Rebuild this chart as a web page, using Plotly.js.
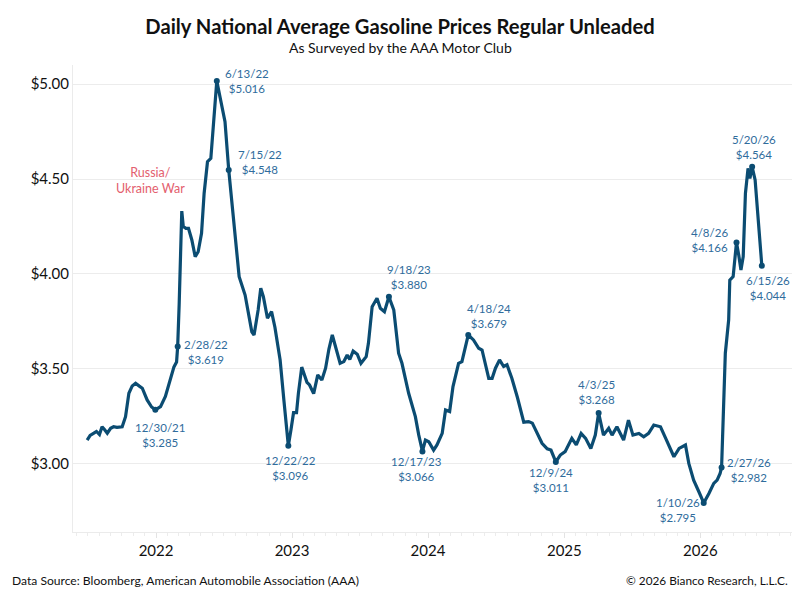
<!DOCTYPE html>
<html>
<head>
<meta charset="utf-8">
<script src="https://cdn.plot.ly/plotly-3.0.1.min.js"></script>
<style>html,body{margin:0;padding:0;background:#fff;}#chart{width:800px;height:600px;}</style>
</head>
<body>
<div id="chart"></div>
<script>
const dates = [
"2021-06-30","2021-07-08","2021-07-18","2021-07-25","2021-08-02","2021-08-09","2021-08-16","2021-08-23","2021-09-01","2021-09-09",
"2021-09-18","2021-10-02","2021-10-11","2021-10-20","2021-10-29","2021-11-07","2021-11-17","2021-11-25","2021-12-08","2021-12-20",
"2021-12-30","2022-01-13","2022-01-26","2022-02-09","2022-02-18","2022-02-25","2022-02-28","2022-03-04","2022-03-08","2022-03-11",
"2022-03-15","2022-03-22","2022-03-29","2022-04-07","2022-04-16","2022-04-24","2022-05-03","2022-05-10","2022-05-19","2022-05-28",
"2022-06-13","2022-06-22","2022-07-05","2022-07-15","2022-07-27","2022-08-07","2022-08-12","2022-08-28","2022-09-15","2022-09-21",
"2022-10-02","2022-10-09","2022-10-16","2022-10-27","2022-11-07","2022-11-16","2022-11-30","2022-12-10","2022-12-22","2022-12-29",
"2023-01-05","2023-01-13","2023-01-18","2023-01-27","2023-02-10","2023-02-17","2023-02-28","2023-03-11","2023-03-22","2023-04-01",
"2023-04-10","2023-04-19","2023-04-28","2023-05-10","2023-05-20","2023-05-29","2023-06-05","2023-06-14","2023-06-25","2023-07-05",
"2023-07-19","2023-07-25","2023-08-04","2023-08-17","2023-08-26","2023-09-06","2023-09-18","2023-10-01","2023-10-14","2023-10-23",
"2023-11-10","2023-11-28","2023-12-07","2023-12-17","2023-12-25","2024-01-03","2024-01-16","2024-01-25","2024-02-08","2024-02-17",
"2024-02-28","2024-03-08","2024-03-23","2024-04-01","2024-04-18","2024-05-02","2024-05-16","2024-05-25","2024-06-12","2024-06-21",
"2024-06-30","2024-07-11","2024-07-22","2024-07-31","2024-08-13","2024-08-28","2024-09-14","2024-09-27","2024-10-07","2024-10-19",
"2024-11-02","2024-11-16","2024-11-26","2024-12-09","2024-12-21","2025-01-03","2025-01-21","2025-02-02","2025-02-15","2025-02-27",
"2025-03-13","2025-03-25","2025-04-03","2025-04-16","2025-04-30","2025-05-09","2025-05-22","2025-06-09","2025-06-22","2025-07-04",
"2025-07-20","2025-08-02","2025-08-15","2025-08-29","2025-09-16","2025-09-30","2025-10-13","2025-10-22","2025-11-05","2025-11-22",
"2025-12-01","2025-12-14","2025-12-28","2026-01-10","2026-01-24","2026-02-06","2026-02-15","2026-02-23","2026-02-27","2026-03-09",
"2026-03-18","2026-03-21","2026-03-30","2026-04-08","2026-04-14","2026-04-20","2026-04-26","2026-05-02","2026-05-09","2026-05-14",
"2026-05-20","2026-05-28","2026-06-04","2026-06-09","2026-06-15"
];
const prices = [
3.126,3.150,3.162,3.171,3.155,3.196,3.180,3.162,3.188,3.196,
3.193,3.196,3.249,3.372,3.411,3.425,3.410,3.399,3.337,3.300,
3.285,3.302,3.355,3.459,3.511,3.537,3.619,3.840,4.170,4.331,
4.250,4.240,4.240,4.179,4.091,4.117,4.214,4.425,4.591,4.609,
5.016,4.933,4.802,4.548,4.302,4.091,3.986,3.889,3.696,3.679,
3.811,3.925,3.881,3.767,3.802,3.720,3.547,3.337,3.096,3.179,
3.270,3.270,3.372,3.510,3.430,3.416,3.370,3.469,3.442,3.504,
3.605,3.679,3.620,3.530,3.539,3.574,3.550,3.594,3.578,3.530,
3.565,3.635,3.828,3.872,3.820,3.802,3.880,3.811,3.583,3.530,
3.372,3.249,3.153,3.066,3.126,3.117,3.073,3.100,3.161,3.284,
3.276,3.407,3.530,3.539,3.679,3.653,3.609,3.600,3.451,3.451,
3.504,3.548,3.513,3.522,3.451,3.350,3.220,3.223,3.215,3.170,
3.109,3.080,3.073,3.011,3.047,3.065,3.135,3.100,3.161,3.135,
3.082,3.152,3.268,3.152,3.188,3.152,3.196,3.126,3.231,3.152,
3.161,3.143,3.161,3.205,3.196,3.135,3.082,3.038,3.082,3.100,
3.003,2.915,2.854,2.795,2.845,2.898,2.915,2.950,2.982,3.583,
3.758,3.968,3.986,4.166,4.100,4.021,4.091,4.425,4.556,4.503,
4.564,4.495,4.319,4.170,4.044
];
const labelDates = ["2021-12-30","2022-02-28","2022-06-13","2022-07-15","2022-12-22","2023-09-18","2023-12-17","2024-04-18","2024-12-09","2025-04-03","2026-01-10","2026-02-27","2026-04-08","2026-05-20","2026-06-15"];
const labelPrices = [3.285,3.619,5.016,4.548,3.096,3.880,3.066,3.679,3.011,3.268,2.795,2.982,4.166,4.564,4.044];
const yTickValues = [3.00,3.50,4.00,4.50,5.00];
const yTickLabels = ["$3.00","$3.50","$4.00","$4.50","$5.00"];
const eventText = "Russia/<br>Ukraine War";
const eventDate = "2021-12-18";
const eventPrice = 4.49;

// label placement offsets (px) relative to each labelled point
const labelOffsets = [[5,-25],[28,-6],[30,0],[31,8],[2,-22],[20,20],[-6,-18],[21,19],[-5,-18],[-2,21],[-26,-7],[27,-3],[-27,2],[2,20],[6,-22]];

function fmtDate(s){const p=s.split("-");return (+p[1])+"/"+(+p[2])+"/"+p[0].slice(2);}

const LINE = "#0b4c72";
const LBL = "#2f6c9c";
const FONT = "Lato, 'Open Sans', sans-serif";

const traces = [
 {x:dates,y:prices,type:"scatter",mode:"lines",line:{color:LINE,width:3.2},hoverinfo:"skip"},
 {x:labelDates,y:labelPrices,type:"scatter",mode:"markers",marker:{color:LINE,size:6},hoverinfo:"skip"}
];

const annotations = labelDates.map((d,i)=>({
 x:d,y:labelPrices[i],xref:"x",yref:"y",showarrow:false,
 text:fmtDate(d)+"<br>$"+labelPrices[i].toFixed(3),
 xshift:labelOffsets[i][0],yshift:labelOffsets[i][1],
 xanchor:"center",yanchor:"middle",align:"center",
 font:{family:FONT,size:11.5,color:LBL}
}));
annotations.push({x:eventDate,y:eventPrice,xref:"x",yref:"y",showarrow:false,text:eventText,align:"center",
 xanchor:"center",yanchor:"middle",font:{family:FONT,size:12.5,color:"#e3606e"}});
annotations.push({x:(400-72.7)/719,y:1.0385,xref:"paper",yref:"paper",showarrow:false,text:"As Surveyed by the AAA Motor Club",
 xanchor:"center",yanchor:"middle",font:{family:FONT,size:14,color:"#111"}});
annotations.push({x:-0.0872,y:-0.1028,xref:"paper",yref:"paper",showarrow:false,
 text:"Data Source: Bloomberg, American Automobile Association (AAA)",xanchor:"left",yanchor:"middle",
 font:{family:FONT,size:12.1,color:"#111"}});
annotations.push({x:0.9976,y:-0.1028,xref:"paper",yref:"paper",showarrow:false,
 text:"© 2026 Bianco Research, L.L.C.",xanchor:"right",yanchor:"middle",
 font:{family:FONT,size:11.8,color:"#111"}});

const layout = {
 width:800,height:600,
 margin:{l:72.7,r:8.3,t:65,b:68},
 paper_bgcolor:"#fff",plot_bgcolor:"#fff",
 showlegend:false,
 title:{text:"<b>Daily National Average Gasoline Prices Regular Unleaded</b>",x:0.5,xanchor:"center",
  y:1-27/600,yanchor:"middle",yref:"container",font:{family:FONT,size:20.2,color:"#111"}},
 xaxis:{type:"date",range:["2021-05-23","2026-09-04"],showgrid:false,zeroline:false,
  showline:true,linecolor:"#ebebeb",linewidth:1,
  tick0:"2022-01-01",dtick:"M12",tickformat:"%Y",ticks:"outside",ticklen:5,tickcolor:"#e3e3e3",
  minor:{dtick:"M1",tick0:"2022-01-01",ticks:"outside",ticklen:3,tickcolor:"#ececec",showgrid:false},
  tickfont:{family:FONT,size:15,color:"#111"}},
 yaxis:{range:[2.642,5.1],tickmode:"array",tickvals:yTickValues,ticktext:yTickLabels,
  showgrid:true,gridcolor:"#ececec",gridwidth:1,zeroline:false,
  showline:true,linecolor:"#ebebeb",linewidth:1,ticks:"",
  tickfont:{family:FONT,size:15,color:"#111"}},
 annotations:annotations
};

Plotly.newPlot("chart",traces,layout,{displayModeBar:false,staticPlot:true});
</script>
</body>
</html>
